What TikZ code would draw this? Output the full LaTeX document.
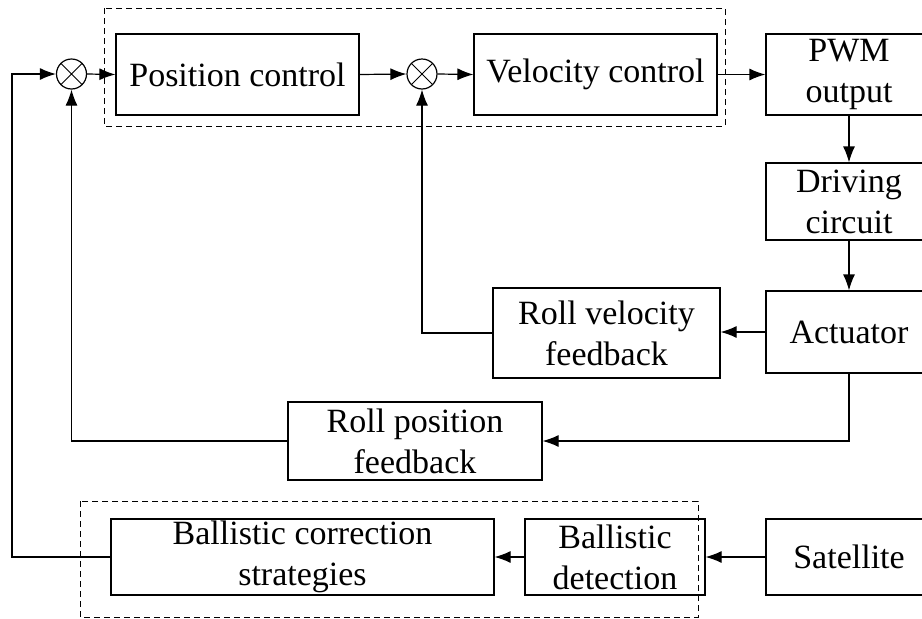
\documentclass[tikz,border=0pt]{standalone}
\usepackage{fontspec}
\setmainfont{Liberation Serif}
\usetikzlibrary{arrows.meta}
\begin{document}
\begin{tikzpicture}[x=1pt,y=-1pt,
  line width=1.2pt,
  blk/.style={draw,rectangle,inner sep=0pt,align=center,font=\fontsize{34}{41}\selectfont},
  sumc/.style={draw,circle,minimum size=30pt,inner sep=0pt,
    path picture={\draw[line width=0.9pt] (path picture bounding box.north west) -- (path picture bounding box.south east)
      (path picture bounding box.north east) -- (path picture bounding box.south west);}},
  arr/.style={-{Latex[length=16pt,width=12pt]}},
  dbox/.style={draw,dashed,line width=0.9pt,dash pattern=on 6pt off 4pt}]
\useasboundingbox (0,0) rectangle (922,619);
\node[blk,minimum width=243pt,minimum height=81pt] (pos) at (237.5,74.5) {Position control};
\node[blk,minimum width=243pt,minimum height=81pt] (vel) at (595.5,74.5) {Velocity control};
\node[blk,minimum width=166pt,minimum height=81pt] (pwm) at (849,74.5) {PWM\\output};
\node[blk,minimum width=166pt,minimum height=77pt] (drv) at (849,201.5) {Driving\\circuit};
\node[blk,minimum width=166pt,minimum height=82pt] (act) at (849,332) {Actuator};
\node[blk,minimum width=227pt,minimum height=90pt] (rvf) at (606.5,333) {Roll velocity\\feedback};
\node[blk,minimum width=254pt,minimum height=78pt] (rpf) at (415,441) {Roll position\\feedback};
\node[blk,minimum width=383pt,minimum height=76pt] (bcs) at (302.5,557) {Ballistic correction\\strategies};
\node[blk,minimum width=180pt,minimum height=76pt] (bd) at (615,557) {Ballistic\\detection};
\node[blk,minimum width=166pt,minimum height=76pt] (sat) at (849,557) {Satellite};
\node[sumc] (s1) at (71.5,74) {};
\node[sumc] (s2) at (422,74) {};
\coordinate (c1) at (12,557);
\coordinate (c2) at (12,74);
\draw[dbox] (104,8) rectangle (725,126);
\draw[dbox] (80,501) rectangle (698,617);
\draw[arr] (s1.east) -- (pos.west);
\draw[arr] (pos.east) -- (s2.west);
\draw[arr] (s2.east) -- (vel.west);
\draw[arr] (vel.east) -- (pwm.west);
\draw[arr] (pwm.south) -- (drv.north);
\draw[arr] (drv.south) -- (act.north);
\draw[arr] (act.west) -- (act.west -| rvf.east);
\draw[arr] (rvf.west) -| (s2.south);
\draw[arr] (act.south) |- (rpf.east);
\draw[arr] (rpf.west) -| (s1.south);
\draw[arr] (sat.west) -- (bd.east);
\draw[arr] (bd.west) -- (bcs.east);
\draw[arr] (bcs.west) -- (c1) -- (c2) -- (s1.west);
\end{tikzpicture}
\end{document}
